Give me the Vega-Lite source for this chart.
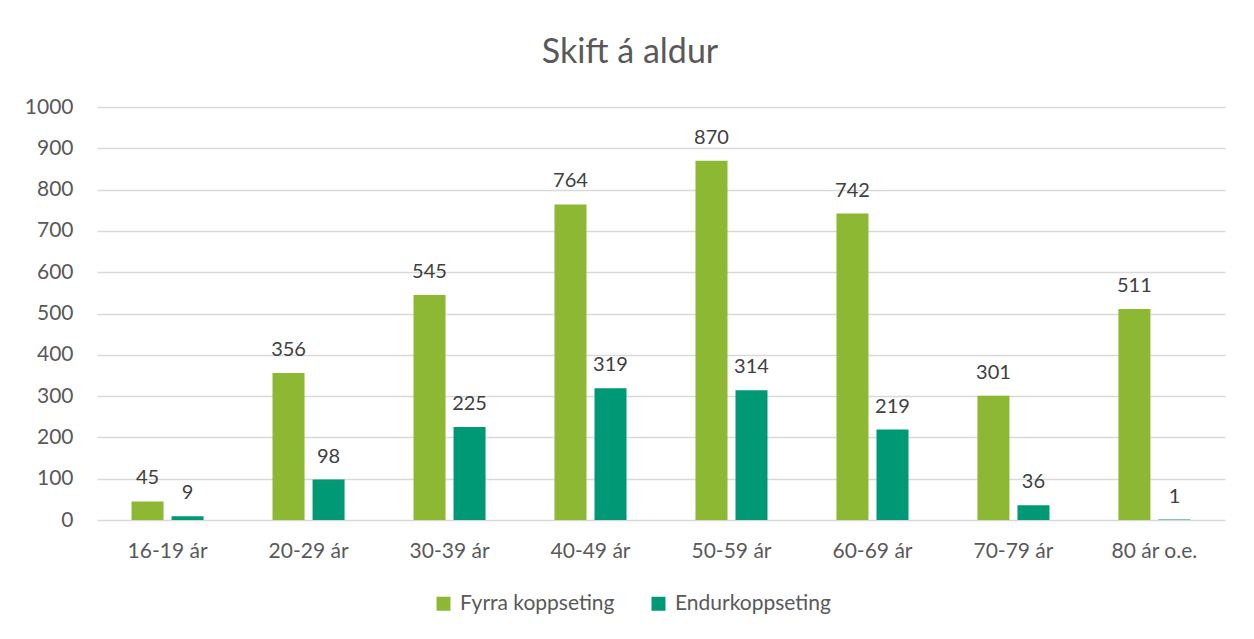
{
  "$schema": "https://vega.github.io/schema/vega-lite/v6.json",
  "width": 1128,
  "height": 413,
  "autosize": {"type": "none"},
  "padding": {"left": 97, "top": 107, "right": 29, "bottom": 119},
  "background": "white",
  "config": {
    "font": "Lato",
    "view": {"stroke": null},
    "axis": {"labelColor": "#595959", "labelFont": "Lato", "labelFontSize": 21, "domain": false, "ticks": false, "gridColor": "#d9d9d9", "gridWidth": 1.5},
    "legend": {"labelColor": "#595959", "labelFont": "Lato", "labelFontSize": 21, "labelLimit": 400}
  },
  "title": {"text": "Skift á aldur", "fontSize": 34, "font": "Lato", "fontWeight": "normal", "color": "#595959", "anchor": "middle", "dx": -31, "offset": 26},
  "data": {"values": [
    {"aldur": "16-19 ár", "slag": "Fyrra koppseting", "tal": 45},
    {"aldur": "16-19 ár", "slag": "Endurkoppseting", "tal": 9},
    {"aldur": "20-29 ár", "slag": "Fyrra koppseting", "tal": 356},
    {"aldur": "20-29 ár", "slag": "Endurkoppseting", "tal": 98},
    {"aldur": "30-39 ár", "slag": "Fyrra koppseting", "tal": 545},
    {"aldur": "30-39 ár", "slag": "Endurkoppseting", "tal": 225},
    {"aldur": "40-49 ár", "slag": "Fyrra koppseting", "tal": 764},
    {"aldur": "40-49 ár", "slag": "Endurkoppseting", "tal": 319},
    {"aldur": "50-59 ár", "slag": "Fyrra koppseting", "tal": 870},
    {"aldur": "50-59 ár", "slag": "Endurkoppseting", "tal": 314},
    {"aldur": "60-69 ár", "slag": "Fyrra koppseting", "tal": 742},
    {"aldur": "60-69 ár", "slag": "Endurkoppseting", "tal": 219},
    {"aldur": "70-79 ár", "slag": "Fyrra koppseting", "tal": 301},
    {"aldur": "70-79 ár", "slag": "Endurkoppseting", "tal": 36},
    {"aldur": "80 ár o.e.", "slag": "Fyrra koppseting", "tal": 511},
    {"aldur": "80 ár o.e.", "slag": "Endurkoppseting", "tal": 1}
  ]},
  "encoding": {
    "x": {"field": "aldur", "type": "nominal", "sort": null, "title": null,
      "scale": {"paddingInner": 0.489, "paddingOuter": 0.245},
      "axis": {"labelAngle": 0, "labelPadding": 20, "grid": false}},
    "xOffset": {"field": "slag", "type": "nominal", "sort": ["Fyrra koppseting", "Endurkoppseting"], "scale": {"paddingInner": 0.2, "paddingOuter": 0}},
    "y": {"field": "tal", "type": "quantitative", "title": null,
      "scale": {"domain": [0, 1000], "nice": false},
      "axis": {"values": [0,100,200,300,400,500,600,700,800,900,1000], "format": "d", "labelPadding": 24}}
  },
  "layer": [
    {"mark": {"type": "bar"},
     "encoding": {
      "color": {"field": "slag", "type": "nominal", "sort": ["Fyrra koppseting", "Endurkoppseting"],
        "scale": {"domain": ["Fyrra koppseting", "Endurkoppseting"], "range": ["#8cb834", "#009975"]},
        "legend": {"title": null, "orient": "none", "legendX": 336, "legendY": 486, "direction": "horizontal", "symbolType": "square", "symbolSize": 196, "symbolOpacity": 1, "symbolStrokeWidth": 0, "columnPadding": 33, "labelOffset": 6, "labelLimit": 400}}
     }},
    {"mark": {"type": "text", "baseline": "alphabetic", "dy": -17, "fontSize": 20},
     "encoding": {"text": {"field": "tal", "type": "quantitative"}, "color": {"value": "#404040"}}}
  ]
}
